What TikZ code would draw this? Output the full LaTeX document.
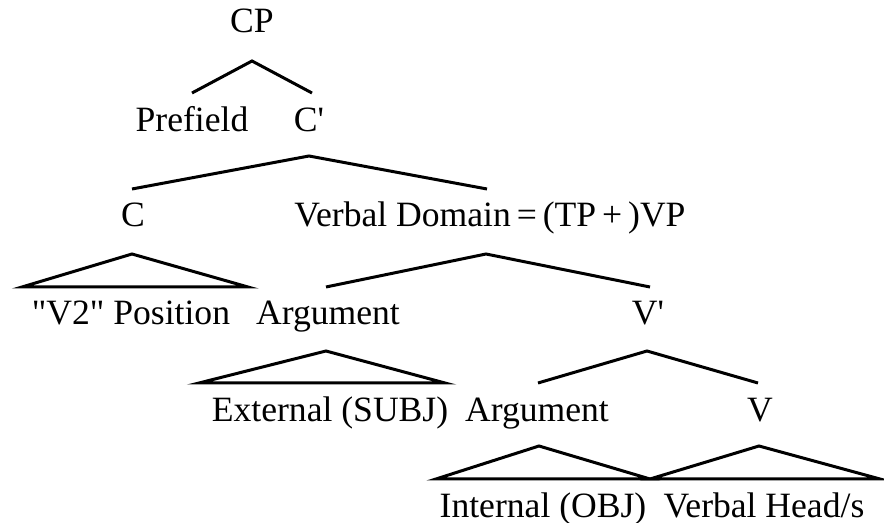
\documentclass[tikz,border=0pt]{standalone}
\usepackage{fontspec}
\setmainfont{Liberation Serif}[Ligatures=TeXOff]
\usepackage{tikz}
\usetikzlibrary{positioning}

\begin{document}
\begin{tikzpicture}[
    x=0.5pt, y=-0.5pt,
    label/.style={
        anchor=base,
        inner sep=0pt,
        font=\fontsize{17.8}{21}\selectfont
    },
    branch/.style={draw, line width=1.5pt, line join=miter},
    roof/.style={branch, line join=miter}
]
\useasboundingbox (0,0) rectangle (884,523);

% Labels
\node[label] (cp) at (252,33) {CP};

\node[label] (prefield) at (192,132) {Prefield};
\node[label] (cbar) at (309,132) {C'};

\node[label] (c) at (133,227) {C};
\node[label, anchor=base west] (vdom) at (294,227) {Verbal Domain\,=\,(TP\,+\,)VP};

\node[label] (v2pos) at (131,325) {"V2" Position};
\node[label] (arg1) at (328,325) {Argument};
\node[label] (vbar) at (648,325) {V'};

\node[label] (ext) at (330,422) {External (SUBJ)};
\node[label] (arg2) at (537,422) {Argument};
\node[label] (v) at (760,422) {V};

\node[label] (int) at (543,518) {Internal (OBJ)};
\node[label] (vhead) at (764,518) {Verbal Head/s};

% Branch points
\coordinate (cp-tip) at (252,61);
\coordinate (prefield-top) at (192,93);
\coordinate (cbar-top) at (312,93);

\coordinate (cbar-tip) at (309,156);
\coordinate (c-top) at (132,189);
\coordinate (vdom-top) at (487,189);

\coordinate (vdom-tip) at (486,254);
\coordinate (arg1-top) at (326,287);
\coordinate (vbar-top) at (650,287);

\coordinate (vbar-tip) at (647,351);
\coordinate (arg2-top) at (538,383);
\coordinate (v-top) at (758,383);

% Roof corners
\coordinate (c-tip) at (132,254);
\coordinate (v2pos-l) at (22,287);
\coordinate (v2pos-r) at (248,287);

\coordinate (arg1-tip) at (326,351);
\coordinate (ext-l) at (199,383);
\coordinate (ext-r) at (445,383);

\coordinate (arg2-tip) at (539,446);
\coordinate (int-l) at (436,479);
\coordinate (int-r) at (650,479);

\coordinate (v-tip) at (759,446);
\coordinate (vhead-r) at (880,479);

% Branches
\draw[branch] (prefield-top) -- (cp-tip) -- (cbar-top);
\draw[branch] (c-top) -- (cbar-tip) -- (vdom-top);
\draw[branch] (arg1-top) -- (vdom-tip) -- (vbar-top);
\draw[branch] (arg2-top) -- (vbar-tip) -- (v-top);

% Roofs
\draw[roof] (v2pos-l) -- (c-tip) -- (v2pos-r) -- cycle;
\draw[roof] (ext-l) -- (arg1-tip) -- (ext-r) -- cycle;
\draw[roof] (int-l) -- (arg2-tip) -- (int-r) -- cycle;
\draw[roof] (int-r) -- (v-tip) -- (vhead-r) -- cycle;

\end{tikzpicture}
\end{document}
